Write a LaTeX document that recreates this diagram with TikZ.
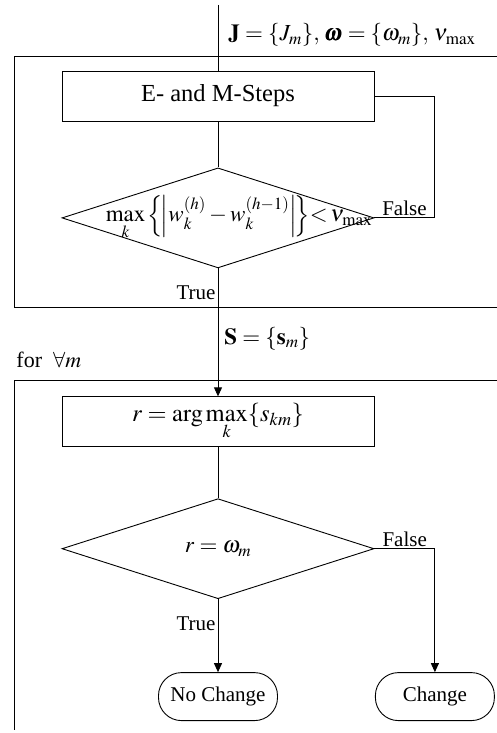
\documentclass[tikz,border=0pt]{standalone}
\usepackage{amsmath}
\usepackage{mathptmx}
\usepackage{fontspec}
\setmainfont{Liberation Serif}
\usetikzlibrary{arrows.meta,positioning,shapes.geometric}

\begin{document}
\begin{tikzpicture}[
  x=1pt, y=-1pt,
  line width=0.9pt,
  box/.style={draw, minimum width=312pt, minimum height=50pt, inner sep=0pt,
    font=\fontsize{24.5}{28}\selectfont},
  test/.style={draw, diamond, minimum width=312pt, minimum height=100pt, inner sep=0pt},
  term/.style={draw, rounded corners=23pt, minimum width=119pt, minimum height=48pt,
    font=\fontsize{21}{24}\selectfont},
  lab/.style={font=\fontsize{21}{24}\selectfont, inner sep=2pt},
  eq/.style={font=\fontsize{23}{27}\selectfont, inner sep=0pt},
  arr/.style={-{Triangle[length=9pt, width=8pt]}}
]
\useasboundingbox (0,0) rectangle (497,733);

% EM loop
\coordinate (in) at (218,5);
\node[box] (estep) at (218,96) {E- and M-Steps};
\node[test, below=46pt of estep] (conv) {};
\node[eq, xshift=21pt] (convtext) at (conv.center)
  {$\displaystyle\max_k\Big\{\!\Big|w_k^{(h)}-w_k^{(h-1)}\Big|\!\Big\}{<}\,\nu_{\max}$};
\node[eq, anchor=west] (params) at (228,35)
  {$\mathbf{J}=\{J_m\},\,\pmb{\omega}=\{\omega_m\},\,\nu_{\max}$};

% decision per m
\node[box, below=128pt of conv] (argmax)
  {$\displaystyle r=\arg\max_k\{s_{km}\}$};
\node[test, below=51pt of argmax] (check) {};
\node[eq] (checktext) at (check.center) {$r=\omega_m$};
\node[term, below=73pt of check] (nochange) {No Change};
\node[term, right=97pt of nochange] (change) {Change};
\node[eq, anchor=west] (forall) at (16,360) {\fontsize{22}{26}\selectfont for\ \ $\forall m$};

% frames
\draw (497,56) -- (14,56) -- (14,307) -- (497,307);
\draw (497,380) -- (14,380) -- (14,730);

% connectors
\draw (in) -- (estep);
\draw (estep) -- (conv);
\draw (conv.east) -- node[lab, above] (f1) {False} ++(60,0) |- (estep.east);
\draw[arr] (conv.south) -- node[lab, pos=0.19, left] (t1) {True}
  node[eq, pos=0.55, right=6pt] (smat) {$\mathbf{S}=\{\mathbf{s}_m\}$} (argmax.north);
\draw (argmax) -- (check);
\draw[arr] (check.south) -- node[lab, pos=0.34, left] (t2) {True} (nochange.north);
\draw[arr] (check.east) -| node[lab, pos=0.25, above] (f2) {False} (change.north);
\end{tikzpicture}
\end{document}
